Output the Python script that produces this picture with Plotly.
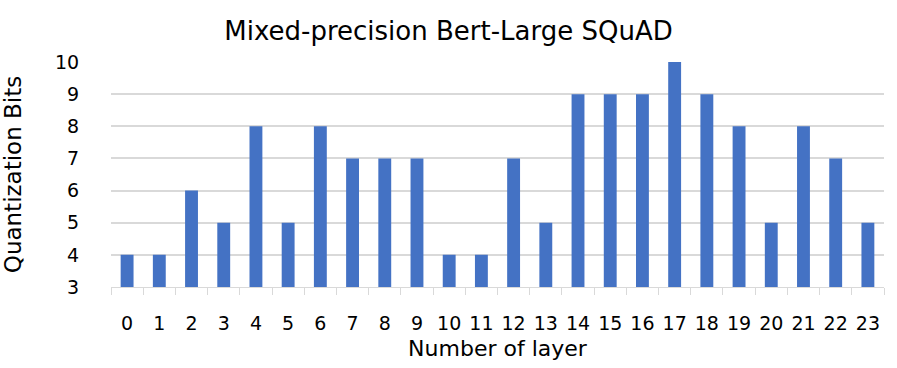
import plotly.graph_objects as go

layers = [str(i) for i in range(24)]
bits = [4, 4, 6, 5, 8, 5, 8, 7, 7, 7, 4, 4, 7, 5, 9, 9, 9, 10, 9, 8, 5, 8, 7, 5]
y_ticks = [3, 4, 5, 6, 7, 8, 9, 10]

font_family = "DejaVu Sans"
fig = go.Figure(go.Bar(x=layers, y=bits, marker_color="#4472C4", marker_line_width=0))
fig.update_layout(
    width=897, height=368,
    margin=dict(l=111, r=13, t=62, b=81),
    paper_bgcolor="white", plot_bgcolor="white",
    bargap=0.6,
    showlegend=False,
    font=dict(family=font_family, size=19, color="#000000"),
    title=dict(text="Mixed-precision Bert-Large SQuAD", x=0.5, xanchor="center",
               y=0.915, yanchor="middle", font=dict(size=26, family=font_family)),
)
fig.update_xaxes(
    type="category", showline=True, linecolor="#d9d9d9", linewidth=1,
    ticks="outside", tickson="boundaries", ticklen=7, tickcolor="#d9d9d9",
    showgrid=False, tickangle=0,
    title=dict(text="Number of layer", font=dict(size=22), standoff=7),
    tickfont=dict(size=19), ticklabelstandoff=19,
)
fig.update_yaxes(
    range=[3, 10], tickvals=y_ticks, showgrid=True, gridcolor="#d9d9d9", gridwidth=1.5,
    showline=False, zeroline=False, ticks="outside", ticklen=15,
    tickcolor="rgba(0,0,0,0)", ticklabelstandoff=12,
    title=dict(text="Quantization Bits", font=dict(size=23), standoff=26),
    tickfont=dict(size=19),
)
fig.write_html("out.html", config={"displayModeBar": False},
               post_script="document.body.style.margin='0';document.body.style.overflow='hidden';")
